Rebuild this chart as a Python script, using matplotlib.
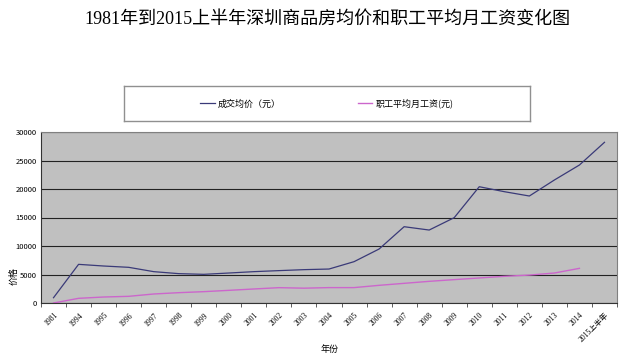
import matplotlib
matplotlib.use('Agg')
from matplotlib import pyplot as plt
from matplotlib.lines import Line2D

plt.rcParams['font.family'] = ['Noto Sans CJK SC', 'DejaVu Sans']

years = ['1981'] + [str(y) for y in range(1994, 2015)] + ['2015上半年']
price = [930, 6780, 6490, 6260, 5500, 5150, 5030, 5260, 5500, 5680, 5850, 5960,
         7250, 9470, 13385, 12800, 14970, 20400, 19530, 18770, 21580, 24210, 28190]
wage = [0, 820, 1050, 1170, 1580, 1810, 1990, 2220, 2460, 2690, 2600, 2700,
        2700, 3100, 3450, 3800, 4100, 4390, 4680, 4900, 5260, 6080]

price_color = '#3a3a78'
wage_color = '#cc66cc'

fig = plt.figure(figsize=(6.4, 3.58), dpi=100)
fig.patch.set_facecolor('white')

fig.text(327 / 640, 1 - 20 / 358, '1981年到2015上半年深圳商品房均价和职工平均月工资变化图',
         ha='center', va='center', fontsize=13,
         family=['Liberation Serif', 'Noto Sans CJK SC'])

ax = fig.add_axes([41 / 640, 1 - 303 / 358, 576 / 640, 171 / 358])
ax.set_facecolor('#c0c0c0')
xs = list(range(len(years)))
ax.plot(xs, price, color=price_color, lw=0.9)
ax.plot(xs[:len(wage)], wage, color=wage_color, lw=1.0)

ax.set_xlim(-0.5, len(years) - 0.5)
ax.set_ylim(0, 30000)
ax.set_yticks(range(0, 30001, 5000))
ax.yaxis.grid(True, color='#222222', lw=0.8)
ax.set_axisbelow(True)
ax.tick_params(axis='y', length=0, labelsize=5.5, pad=3)
ax.set_xticks(xs)
ax.set_xticklabels(years, rotation=45, ha='right', rotation_mode='anchor',
                   fontsize=5.5, family=['Liberation Serif', 'Noto Sans CJK SC'])
ax.tick_params(axis='x', which='major', length=0, pad=6)
ax.set_xticks([x - 0.5 for x in range(len(years) + 1)], minor=True)
ax.tick_params(axis='x', which='minor', length=3, color='#444444', width=0.6)
for s in ax.spines.values():
    s.set_color('#808080')
    s.set_linewidth(0.8)
ax.spines['bottom'].set_color('#333333')
ax.spines['left'].set_color('#333333')

fig.text(330 / 640, 1 - 349 / 358, '年份', ha='center', va='center', fontsize=6.5)
fig.text(14 / 640, 1 - 276 / 358, '价格', ha='center', va='center', fontsize=6.5,
         rotation=90)

lax = fig.add_axes([124 / 640, 1 - 121 / 358, 406 / 640, 35 / 358])
lax.set_xticks([])
lax.set_yticks([])
for s in lax.spines.values():
    s.set_color('#909090')
    s.set_linewidth(1.0)
handles = [Line2D([], [], color=price_color, lw=0.9),
           Line2D([], [], color=wage_color, lw=1.0)]
lax.legend(handles, ['成交均价（元）', '职工平均月工资(元)'], loc='center', ncol=2,
           frameon=False, fontsize=6.5, handlelength=1.6, columnspacing=8.5,
           handletextpad=0.4)

fig.savefig('out.png', dpi=100)
